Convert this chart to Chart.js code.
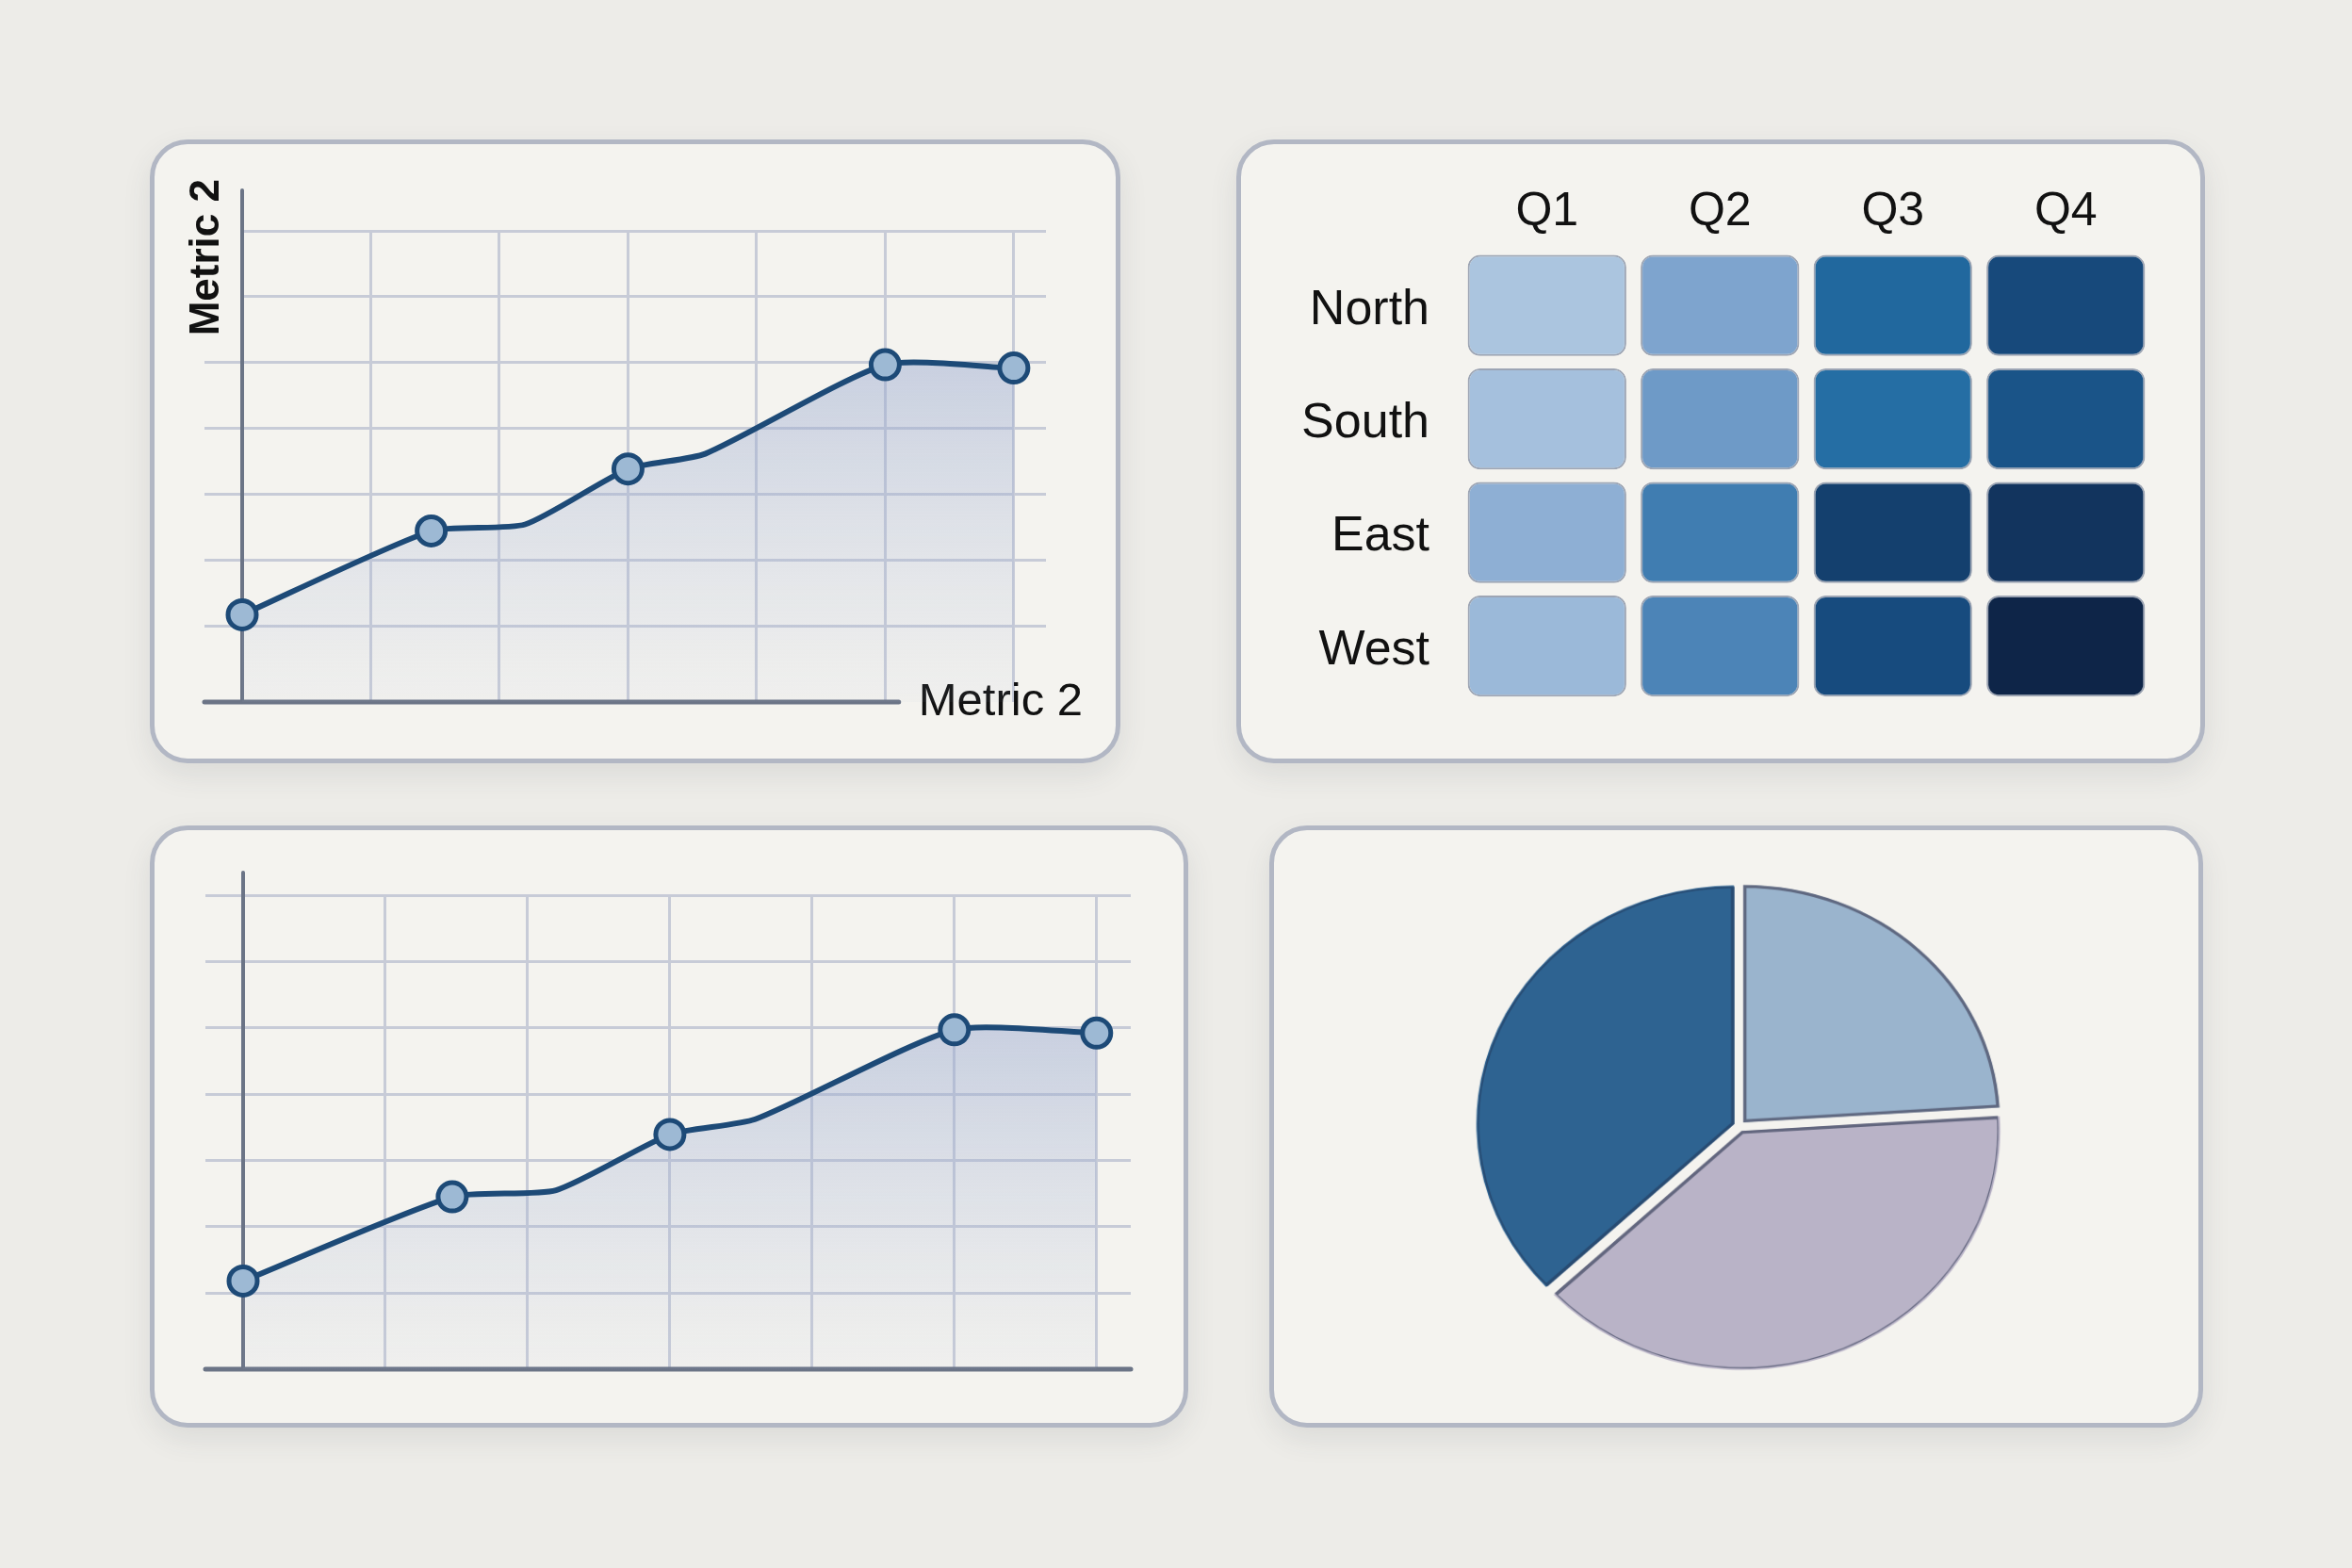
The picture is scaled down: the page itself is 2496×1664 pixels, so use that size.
<!DOCTYPE html>
<html>
<head>
<meta charset="utf-8">
<title>Dashboard</title>
<script src="https://cdn.jsdelivr.net/npm/chart.js@4.4.1/dist/chart.umd.min.js"></script>
<style>
  html, body { margin: 0; padding: 0; background: #edece8; }
  #page { position: relative; width: 2496px; height: 1664px; overflow: hidden; }
  .panel {
    position: absolute; box-sizing: border-box;
    border: 5px solid #b2b7c4; border-radius: 40px;
    background: #f4f3ef;
    box-shadow: 0 12px 30px rgba(60, 64, 82, 0.10);
  }
  .plot { position: absolute; }
  .plot canvas { display: block; }
</style>
</head>
<body>
<div id="page">
  <div class="panel" style="left:159px;top:148px;width:1030px;height:662px"></div>
  <div class="panel" style="left:1312px;top:148px;width:1028px;height:662px"></div>
  <div class="panel" style="left:159px;top:876px;width:1102px;height:639px"></div>
  <div class="panel" style="left:1347px;top:876px;width:991px;height:639px"></div>

  <div class="plot" style="left:159px;top:148px;width:1030px;height:662px"><canvas id="lineTop"></canvas></div>
  <div class="plot" style="left:1312px;top:148px;width:1028px;height:662px"><canvas id="heat"></canvas></div>
  <div class="plot" style="left:159px;top:876px;width:1102px;height:639px"><canvas id="lineBottom"></canvas></div>
  <div class="plot" style="left:1546px;top:895px;width:600px;height:600px;transform:scale(1.039,0.961)"><canvas id="pie"></canvas></div>
</div>

<script>
// ---- data ----
const lineX = [0, 1.47, 2.2, 3.0, 3.6, 5.0, 6.0];
const lineY = [1.18, 2.45, 2.55, 3.39, 3.62, 4.97, 4.92];
const markerIdx = [0, 1, 3, 5, 6];
const gridX = [1, 2, 3, 4, 5, 6];
const gridY = [1, 2, 3, 4, 5, 6, 7];
const axisTitle = "Metric 2";

const quarters = ["Q1", "Q2", "Q3", "Q4"];
const regions = ["North", "South", "East", "West"];
const heatNorth = [12, 32, 67, 81];
const heatSouth = [15, 38, 64, 76];
const heatEast = [25, 54, 86, 92];
const heatWest = [19, 50, 80, 100];

const pieLabels = ["Segment A", "Segment B", "Segment C"];
const pieValues = [24, 39, 37];

// ---- styles ----
const FONT = '"Liberation Sans", Arial, Helvetica, sans-serif';
const gridColor = "#c7cbd7";
const axisColor = "#6b7486";
const lineColor = "#1d4a77";
const heatStops = [[10, "#b0c8e1"], [35, "#779fcb"], [55, "#3d7bb0"], [65, "#226ca3"], [80, "#174b7e"], [100, "#0e2548"]];

Chart.defaults.font.family = FONT;
Chart.defaults.color = "#111111";

function hexRgb(h) {
  const n = parseInt(h.slice(1), 16);
  return [(n >> 16) & 255, (n >> 8) & 255, n & 255];
}

function heatColor(v) {
  for (let i = 1; i < heatStops.length; i++) {
    if (v <= heatStops[i][0]) {
      const [v0, c0] = heatStops[i - 1];
      const [v1, c1] = heatStops[i];
      const t = Math.max(0, (v - v0) / (v1 - v0));
      const a = hexRgb(c0), b = hexRgb(c1);
      const c = a.map((x, k) => Math.round(x + (b[k] - x) * t));
      return `rgb(${c[0]},${c[1]},${c[2]})`;
    }
  }
  return heatStops[heatStops.length - 1][1];
}

// axis lines and titles drawn from the scales
function axisDecor(opt) {
  return {
    id: "axisDecor",
    beforeDatasetsDraw(chart) {
      const { ctx, chartArea: a } = chart;
      const tick = opt.tickLength;
      ctx.save();
      ctx.strokeStyle = axisColor;
      ctx.lineCap = "round";

      let xEnd = a.right;
      if (opt.xLabel) {
        ctx.font = `49px ${FONT}`;
        const w = ctx.measureText(opt.xLabel).width;
        const right = a.right + 39;
        ctx.fillStyle = "#111111";
        ctx.textAlign = "right";
        ctx.textBaseline = "middle";
        ctx.fillText(opt.xLabel, right, a.bottom);
        xEnd = right - w - 21;
      }

      // y axis
      ctx.lineWidth = 4;
      ctx.beginPath();
      ctx.moveTo(a.left, a.top - opt.yOverhang);
      ctx.lineTo(a.left, a.bottom);
      ctx.stroke();

      // x axis
      ctx.lineWidth = 5;
      ctx.beginPath();
      ctx.moveTo(a.left - tick, a.bottom);
      ctx.lineTo(xEnd, a.bottom);
      ctx.stroke();

      if (opt.yLabel) {
        ctx.translate(a.left - 37, a.top - 55);
        ctx.rotate(-Math.PI / 2);
        ctx.font = `bold 44px ${FONT}`;
        ctx.fillStyle = "#111111";
        ctx.textAlign = "right";
        ctx.textBaseline = "middle";
        ctx.fillText(opt.yLabel, 0, 0);
      }
      ctx.restore();
    }
  };
}

function makeLine(id, opt) {
  const tickLength = 40;
  return new Chart(document.getElementById(id), {
    type: "line",
    data: {
      datasets: [{
        data: lineX.map((x, i) => ({ x: x, y: lineY[i] })),
        borderColor: lineColor,
        borderWidth: 6,
        tension: 0.2,
        clip: 24,
        fill: "start",
        backgroundColor: (c) => {
          const ch = c.chart;
          const a = ch.chartArea;
          if (!a) return "rgba(150,168,208,0.25)";
          const top = ch.scales.y.getPixelForValue(5);
          const g = ch.ctx.createLinearGradient(0, top, 0, a.bottom);
          g.addColorStop(0, "rgba(148,165,206,0.45)");
          g.addColorStop(0.6, "rgba(160,176,212,0.2)");
          g.addColorStop(1, "rgba(170,184,216,0.05)");
          return g;
        },
        pointRadius: (c) => markerIdx.includes(c.dataIndex) ? 15 : 0,
        pointHoverRadius: (c) => markerIdx.includes(c.dataIndex) ? 15 : 0,
        pointBackgroundColor: "#9db9d4",
        pointBorderColor: lineColor,
        pointBorderWidth: 5
      }]
    },
    options: {
      responsive: true,
      maintainAspectRatio: false,
      animation: false,
      devicePixelRatio: 1,
      events: [],
      layout: { padding: opt.padding, autoPadding: false },
      plugins: { legend: { display: false }, tooltip: { enabled: false } },
      scales: {
        x: {
          type: "linear",
          min: 0,
          max: opt.xMax,
          afterBuildTicks: (ax) => { ax.ticks = gridX.map(v => ({ value: v })); },
          ticks: { display: false },
          border: { display: false },
          grid: { color: gridColor, lineWidth: 3, drawTicks: false }
        },
        y: {
          type: "linear",
          min: opt.yMin,
          max: 7,
          afterBuildTicks: (ax) => { ax.ticks = gridY.map(v => ({ value: v })); },
          ticks: { display: false },
          border: { display: false },
          grid: {
            color: gridColor,
            lineWidth: 3,
            drawTicks: true,
            tickLength: tickLength,
            tickWidth: 3,
            tickColor: (c) => (c.tick && c.tick.value >= opt.noTickFrom) ? "rgba(0,0,0,0)" : gridColor
          }
        }
      }
    },
    plugins: [axisDecor({
      tickLength: tickLength,
      yOverhang: opt.yOverhang,
      xLabel: opt.xLabel,
      yLabel: opt.yLabel
    })]
  });
}

makeLine("lineTop", {
  padding: { left: 58, right: 79, top: 97, bottom: 65 },
  xMax: 6.25,
  yMin: -0.143,
  yOverhang: 43,
  noTickFrom: 6,
  xLabel: axisTitle,
  yLabel: axisTitle
});

makeLine("lineBottom", {
  padding: { left: 59, right: 61, top: 74, bottom: 62 },
  xMax: 6.24,
  yMin: -0.15,
  yOverhang: 24,
  noTickFrom: 99
});

// ---- heatmap ----
const heatRows = [heatNorth, heatSouth, heatEast, heatWest];
const cellInset = 0.055;

new Chart(document.getElementById("heat"), {
  type: "bar",
  data: {
    labels: quarters,
    datasets: regions.map((name, r) => ({
      label: name,
      data: heatRows[r].map(() => [r + cellInset, r + 1 - cellInset]),
      backgroundColor: heatRows[r].map(heatColor),
      borderColor: "rgba(50,72,108,0.45)",
      borderWidth: 2,
      borderRadius: 13,
      borderSkipped: false,
      grouped: false,
      barPercentage: 0.917,
      categoryPercentage: 1
    }))
  },
  options: {
    responsive: true,
    maintainAspectRatio: false,
    animation: false,
    devicePixelRatio: 1,
    events: [],
    layout: { padding: { left: 0, top: 0, right: 56, bottom: 42 } },
    plugins: { legend: { display: false }, tooltip: { enabled: false } },
    scales: {
      x: {
        type: "category",
        position: "top",
        grid: { display: false, drawTicks: false },
        border: { display: false },
        ticks: { font: { size: 50 }, color: "#111111", padding: 9 },
        afterFit: (ax) => { ax.height = 116; }
      },
      y: {
        type: "linear",
        min: 0,
        max: 4,
        reverse: true,
        afterBuildTicks: (ax) => { ax.ticks = regions.map((_, i) => ({ value: i + 0.5 })); },
        grid: { display: false, drawTicks: false },
        border: { display: false },
        ticks: {
          font: { size: 52 },
          color: "#111111",
          padding: 33,
          labelOffset: 5,
          callback: (v, i) => regions[i]
        },
        afterFit: (ax) => { ax.width = 238; }
      }
    }
  }
});

// ---- pie ----
new Chart(document.getElementById("pie"), {
  type: "pie",
  data: {
    labels: pieLabels,
    datasets: [{
      data: pieValues,
      backgroundColor: ["#9ab4cd", "#b9b3c7", "#2e6391"],
      borderColor: ["#5f6880", "#62667e", "#284b72"],
      borderWidth: 3,
      borderAlign: "inner",
      borderJoinStyle: "round",
      offset: 24
    }]
  },
  options: {
    responsive: true,
    maintainAspectRatio: false,
    animation: false,
    devicePixelRatio: 1,
    events: [],
    radius: 262,
    layout: { padding: 0 },
    plugins: { legend: { display: false }, tooltip: { enabled: false } }
  }
});
</script>
</body>
</html>
